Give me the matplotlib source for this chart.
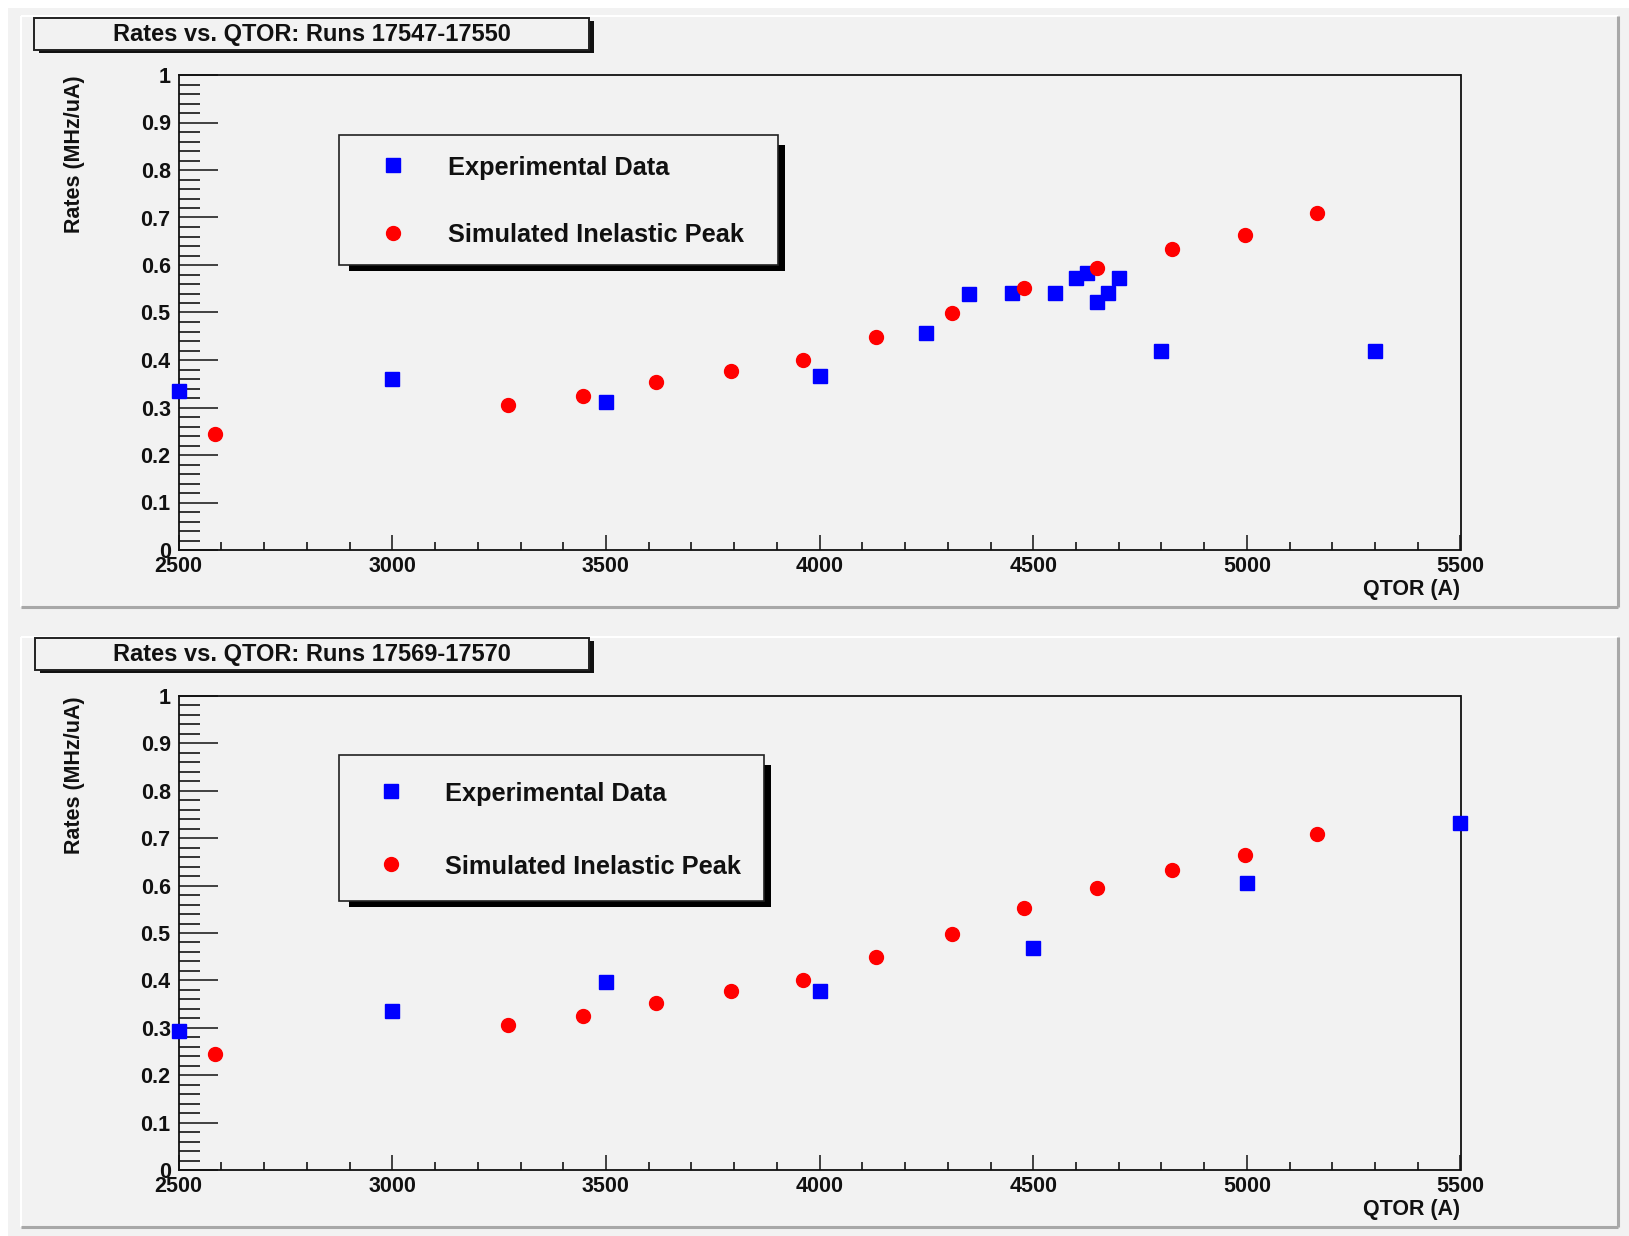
import numpy as np
import matplotlib
matplotlib.use("Agg")
import matplotlib.pyplot as plt
from matplotlib.ticker import MultipleLocator, FuncFormatter
from matplotlib.patches import Rectangle

plt.rcParams['font.family'] = ['Liberation Sans', 'DejaVu Sans']
plt.rcParams['font.weight'] = 'bold'

# ---------------- data ----------------
titles = ["Rates vs. QTOR: Runs 17547-17550", "Rates vs. QTOR: Runs 17569-17570"]
legend_labels = ["Experimental Data", "Simulated Inelastic Peak"]
x_label = "QTOR (A)"
y_label = "Rates (MHz/uA)"

sim_qtor = [2586, 3271, 3446, 3616, 3793, 3961, 4131, 4309, 4478, 4649, 4824, 4995, 5165]
sim_rate = [0.245, 0.305, 0.325, 0.353, 0.377, 0.401, 0.449, 0.498, 0.552, 0.594, 0.633, 0.664, 0.709]

exp1_qtor = [2500, 3000, 3500, 4000, 4250, 4350, 4450, 4550, 4600, 4625, 4650, 4675, 4700, 4800, 5300]
exp1_rate = [0.335, 0.361, 0.311, 0.366, 0.457, 0.538, 0.542, 0.542, 0.572, 0.584, 0.523, 0.542, 0.572, 0.419, 0.419]

exp2_qtor = [2500, 3000, 3500, 4000, 4500, 5000, 5500]
exp2_rate = [0.294, 0.336, 0.397, 0.378, 0.469, 0.605, 0.732]

W, H = 1629, 1236
BG = '#f2f2f2'

fig = plt.figure(figsize=(W / 100, H / 100), dpi=100, facecolor=BG)

# background overlay (pixel coords)
bg = fig.add_axes([0, 0, 1, 1], zorder=0)
bg.set_xlim(0, W); bg.set_ylim(H, 0); bg.axis('off')
bg.add_patch(Rectangle((0, 0), W, 8, facecolor='white', edgecolor='none'))
bg.add_patch(Rectangle((0, 0), 8, H, facecolor='white', edgecolor='none'))

def pad_frame(x0, y0, x1, y1):
    bg.plot([x0, x1], [y0, y0], color='white', lw=1.5, solid_capstyle='butt')
    bg.plot([x0, x0], [y0, y1], color='white', lw=1.5, solid_capstyle='butt')
    bg.plot([x0, x1], [y1, y1], color='#a8a8a8', lw=2.2, solid_capstyle='butt')
    bg.plot([x1, x1], [y0, y1], color='#a8a8a8', lw=2.2, solid_capstyle='butt')

pad_frame(21, 16, 1618, 607)
pad_frame(21, 637, 1618, 1227)

# foreground overlay for title boxes / legends
fg = fig.add_axes([0, 0, 1, 1], zorder=10)
fg.set_xlim(0, W); fg.set_ylim(H, 0); fg.axis('off'); fg.patch.set_alpha(0)

def yfmt(v, pos):
    if abs(v) < 1e-9:
        return '0'
    if abs(v - 1) < 1e-9:
        return '1'
    return f'{v:.1f}'

panels = [
    dict(top=75, bottom=550, exp=(exp1_qtor, exp1_rate), title=titles[0],
         tbox=(34.5, 18.3, 589, 50), tbase=40.5,
         lbox=(339, 135, 778, 264.5), mx=393.3, tx=448.3, rows=(165, 232.7),
         qy=590),
    dict(top=696, bottom=1170, exp=(exp2_qtor, exp2_rate), title=titles[1],
         tbox=(34.7, 638, 589, 670), tbase=660.5,
         lbox=(339, 755, 764.5, 900.5), mx=391.5, tx=444.8, rows=(791, 864),
         qy=1210),
]

left_px, right_px = 178.7, 1460.5
for p in panels:
    ax = fig.add_axes([left_px / W, 1 - p['bottom'] / H, (right_px - left_px) / W,
                       (p['bottom'] - p['top']) / H], zorder=1)
    ax.set_facecolor(BG)
    ax.set_xlim(2500, 5500)
    ax.set_ylim(0, 1)
    ex, ey = p['exp']
    ax.plot(ex, ey, 's', color='#0000ff', mec='#0000ff', ms=10.3, clip_on=False, zorder=5)
    ax.plot(sim_qtor, sim_rate, 'o', color='#ff0000', mec='#ff0000', ms=10, clip_on=False, zorder=6)

    ax.yaxis.set_major_locator(MultipleLocator(0.1))
    ax.yaxis.set_minor_locator(MultipleLocator(0.02))
    ax.xaxis.set_major_locator(MultipleLocator(500))
    ax.xaxis.set_minor_locator(MultipleLocator(100))
    ax.yaxis.set_major_formatter(FuncFormatter(yfmt))
    ax.tick_params(axis='y', which='major', direction='in', length=28, width=1.1,
                   left=True, right=False, labelsize=15.5, pad=5.8, colors='#111111')
    ax.tick_params(axis='y', which='minor', direction='in', length=15, width=1.1,
                   left=True, right=False)
    ax.tick_params(axis='x', which='major', direction='in', length=10.8, width=1.1,
                   bottom=True, top=False, labelsize=15.5, pad=4.5, colors='#111111')
    ax.tick_params(axis='x', which='minor', direction='in', length=6, width=1.1,
                   bottom=True, top=False)
    for s in ax.spines.values():
        s.set_linewidth(1.3)
        s.set_color('#111111')
    for lab in ax.get_xticklabels() + ax.get_yticklabels():
        lab.set_fontweight('bold')

    # axis titles
    fg.text(74.6, p['top'], y_label, rotation=90, ha='center', va='top',
            fontsize=15.5, fontweight='bold', color='#111111')
    fg.text(right_px, p['qy'], x_label, ha='right', va='center',
            fontsize=15.5, fontweight='bold', color='#111111')

    # title box with shadow
    x0, y0, x1, y1 = p['tbox']
    fg.add_patch(Rectangle((x0 + 5, y0 + 3), x1 - x0, y1 - y0, facecolor='#111111',
                           edgecolor='none', zorder=1))
    fg.add_patch(Rectangle((x0, y0), x1 - x0, y1 - y0, facecolor=BG,
                           edgecolor='#222222', lw=1.4, zorder=2))
    fg.text((x0 + x1) / 2, p['tbase'], p['title'], ha='center', va='baseline',
            fontsize=17, fontweight='bold', color='#111111', zorder=3)

    # legend box with shadow
    x0, y0, x1, y1 = p['lbox']
    fg.add_patch(Rectangle((x0 + 10, y0 + 10), (x1 + 7) - (x0 + 10), (y1 + 6.5) - (y0 + 10),
                           facecolor='black', edgecolor='none', zorder=1))
    fg.add_patch(Rectangle((x0, y0), x1 - x0, y1 - y0, facecolor=BG,
                           edgecolor='#222222', lw=1.2, zorder=2))
    r1, r2 = p['rows']
    fg.plot([p['mx']], [r1], 's', color='#0000ff', mec='#0000ff', ms=10.3, zorder=3)
    fg.plot([p['mx']], [r2], 'o', color='#ff0000', mec='#ff0000', ms=10, zorder=3)
    fg.text(p['tx'], r1 + 2.5, legend_labels[0], ha='left', va='center', fontsize=18.3,
            fontweight='bold', color='#111111', zorder=3)
    fg.text(p['tx'], r2 + 2.5, legend_labels[1], ha='left', va='center', fontsize=18.3,
            fontweight='bold', color='#111111', zorder=3)

fig.savefig('out.png', dpi=100, facecolor=BG)
